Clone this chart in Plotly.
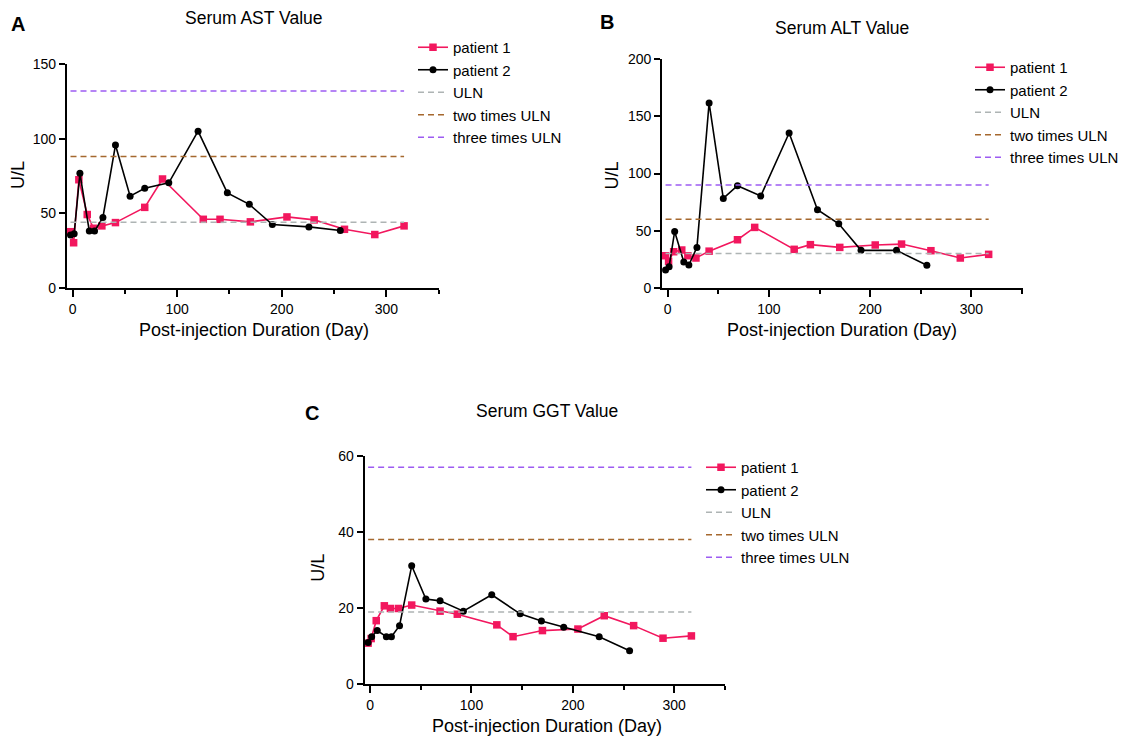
import plotly.graph_objects as go

# ---------------- data ----------------
days_p1 = [-2, 1, 6, 14, 20, 28, 41, 69, 86, 125, 141, 170, 205, 231, 260, 289, 317]
days_p2 = [-2, 1.5, 7, 16, 21, 29, 41, 55, 69, 92, 120, 148, 169, 191, 226, 256]

ast_p1 = [37.7, 30.3, 72.5, 49.2, 40.0, 41.6, 43.8, 54.0, 73.0, 46.0, 46.0, 44.3, 47.6, 45.6, 39.3, 35.8, 41.6]
ast_p2 = [35.5, 36.4, 76.8, 38.1, 38.1, 47.2, 95.7, 61.5, 66.8, 70.4, 105.0, 63.7, 56.0, 42.5, 40.9, 38.5]

alt_p1 = [28.0, 23.0, 31.5, 33.0, 28.0, 26.0, 32.0, 42.0, 52.8, 33.6, 37.7, 35.3, 37.4, 38.2, 32.4, 26.0, 29.2]
alt_p2 = [15.5, 18.4, 49.3, 22.5, 19.9, 35.3, 161.8, 78.2, 89.3, 80.3, 135.5, 68.3, 56.0, 32.7, 32.7, 19.6]

ggt_p1 = [10.8, 12.0, 16.7, 20.6, 19.9, 19.9, 20.8, 19.2, 18.4, 15.6, 12.5, 14.1, 14.5, 18.0, 15.4, 12.1, 12.7]
ggt_p2 = [11.0, 12.5, 14.1, 12.5, 12.5, 15.4, 31.1, 22.4, 21.9, 19.2, 23.5, 18.5, 16.6, 15.0, 12.5, 8.8]

uln = {"AST": 44, "ALT": 30, "GGT": 19}
panel_titles = ["Serum AST Value", "Serum ALT Value", "Serum GGT Value"]
panel_letters = ["A", "B", "C"]
line_names = ["ULN", "two times ULN", "three times ULN"]
multipliers = [1, 2, 3]
x_ticks = [0, 100, 200, 300]
x_minor = [50, 150, 250, 350]
y_ticks = {"AST": [0, 50, 100, 150], "ALT": [0, 50, 100, 150, 200], "GGT": [0, 20, 40, 60]}

# ---------------- style ----------------
W, H = 1124, 736
FONT = "Arial, 'Liberation Sans', Helvetica, sans-serif"
PINK = "#F2175E"
BLACK = "#000000"
REF_COLORS = ["#AEB4B4", "#A5682E", "#9D5CF2"]


def px(x):
    return x / W


def py(y):
    return 1 - y / H


# panel layout (pixel boxes): x0, x1, ytop, ybottom
panels = [
    dict(key="AST", ax="", box=(67, 439.5, 64, 288), p1=ast_p1, p2=ast_p2,
         title=(254, 18), letter=(18, 24), xtitle=(254, 330), ytitle=(18, 175),
         legend=(413, 31)),
    dict(key="ALT", ax="2", box=(662.7, 1023.5, 59.3, 287.7), p1=alt_p1, p2=alt_p2,
         title=(843, 28), letter=(608, 22), xtitle=(843, 330), ytitle=(613, 175),
         legend=(971, 51)),
    dict(key="GGT", ax="3", box=(365, 726, 455.7, 684.3), p1=ggt_p1, p2=ggt_p2,
         title=(547, 411), letter=(312, 413), xtitle=(547, 726), ytitle=(318, 568),
         legend=(701, 451)),
]

fig = go.Figure()
annotations = []
layout_axes = {}

for i, p in enumerate(panels):
    ax = p["ax"]
    xref = "x" + ax
    yref = "y" + ax
    leg = "legend" + ax
    fig.add_trace(go.Scatter(
        x=days_p1, y=p["p1"], mode="lines+markers", name="patient 1",
        line=dict(color=PINK, width=1.6), marker=dict(symbol="square", size=7.5, color=PINK),
        xaxis=xref, yaxis=yref, legend=leg, cliponaxis=False))
    fig.add_trace(go.Scatter(
        x=days_p2, y=p["p2"], mode="lines+markers", name="patient 2",
        line=dict(color=BLACK, width=1.6), marker=dict(symbol="circle", size=7, color=BLACK),
        xaxis=xref, yaxis=yref, legend=leg, cliponaxis=False))
    x_ext = [min(days_p1), max(days_p1)]
    for name, m, c in zip(line_names, multipliers, REF_COLORS):
        v = uln[p["key"]] * m
        fig.add_trace(go.Scatter(
            x=x_ext, y=[v, v], mode="lines", name=name,
            line=dict(color=c, width=1.5, dash="6px,4px"),
            xaxis=xref, yaxis=yref, legend=leg, cliponaxis=False))

    x0, x1, yt, yb = p["box"]
    yt_vals = y_ticks[p["key"]]
    layout_axes["xaxis" + ax] = dict(
        domain=[px(x0), px(x1)], range=[-5.4, 350.5], anchor=yref, automargin=False,
        tickvals=x_ticks, ticks="outside", ticklen=7, tickwidth=2, tickcolor="black",
        showline=True, linecolor="black", linewidth=2, showgrid=False, zeroline=False,
        tickfont=dict(size=14, color="black", family=FONT),
        minor=dict(tickvals=x_minor, ticks="outside", ticklen=4, tickwidth=2, tickcolor="black",
                   showgrid=False),
    )
    layout_axes["yaxis" + ax] = dict(
        domain=[py(yb), py(yt)], range=[yt_vals[0], yt_vals[-1]], anchor=xref, automargin=False,
        tickvals=yt_vals, ticks="outside", ticklen=6, tickwidth=2, tickcolor="black",
        showline=True, linecolor="black", linewidth=2, showgrid=False, zeroline=False,
        tickfont=dict(size=14, color="black", family=FONT),
    )
    lx, ly = p["legend"]
    layout_axes[leg] = dict(
        x=px(lx), y=py(ly), xanchor="left", yanchor="top",
        font=dict(size=15, color="black", family=FONT), bgcolor="rgba(0,0,0,0)",
        borderwidth=0, tracegroupgap=0,
    )
    tx, ty = p["title"]
    annotations.append(dict(text=panel_titles[i], x=px(tx), y=py(ty), xref="paper", yref="paper",
                            showarrow=False, xanchor="center", yanchor="middle",
                            font=dict(size=17.5, color="black", family=FONT)))
    lx2, ly2 = p["letter"]
    annotations.append(dict(text="<b>" + panel_letters[i] + "</b>", x=px(lx2), y=py(ly2),
                            xref="paper", yref="paper", showarrow=False,
                            xanchor="center", yanchor="middle",
                            font=dict(size=20, color="black", family=FONT)))
    xtx, xty = p["xtitle"]
    annotations.append(dict(text="Post-injection Duration (Day)", x=px(xtx), y=py(xty),
                            xref="paper", yref="paper", showarrow=False,
                            xanchor="center", yanchor="middle",
                            font=dict(size=18, color="black", family=FONT)))
    ytx, yty = p["ytitle"]
    annotations.append(dict(text="U/L", x=px(ytx), y=py(yty), xref="paper", yref="paper",
                            showarrow=False, textangle=-90, xanchor="center", yanchor="middle",
                            font=dict(size=18, color="black", family=FONT)))

fig.update_layout(
    template="none",
    width=W, height=H, autosize=False, margin=dict(l=0, r=0, t=0, b=0, pad=0),
    paper_bgcolor="white", plot_bgcolor="white",
    font=dict(family=FONT, color="black"),
    annotations=annotations,
    **layout_axes,
)

fig.write_html(
    "out.html",
    config={"displayModeBar": False},
    default_width=f"{W}px",
    default_height=f"{H}px",
    post_script="document.body.style.margin='0';",
)
